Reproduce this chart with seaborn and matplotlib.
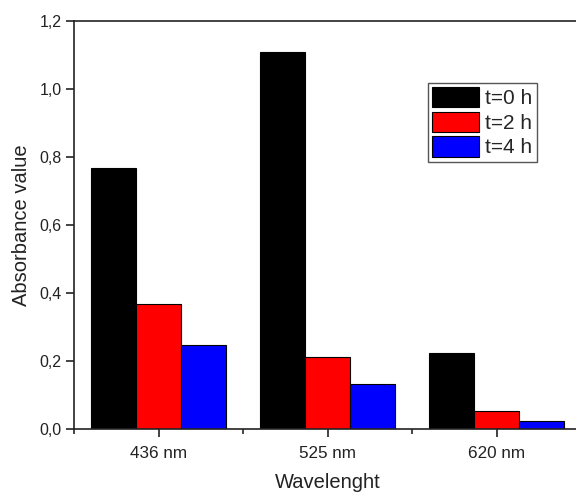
import matplotlib
matplotlib.use("Agg")
import matplotlib.pyplot as plt
import matplotlib.ticker as mticker
import seaborn as sns
import pandas as pd

categories = ["436 nm", "525 nm", "620 nm"]
series_names = ["t=0 h", "t=2 h", "t=4 h"]
t0_values = [0.769, 1.108, 0.223]
t2_values = [0.369, 0.212, 0.054]
t4_values = [0.248, 0.133, 0.024]
colors = ["#000000", "#FF0000", "#0000FF"]

rows = []
for name, vals in zip(series_names, [t0_values, t2_values, t4_values]):
    for c, v in zip(categories, vals):
        rows.append({"Wavelenght": c, "value": v, "series": name})
df = pd.DataFrame(rows)

sns.set_style("ticks")
plt.rcParams["font.family"] = ["Liberation Sans", "DejaVu Sans"]

fig = plt.figure(figsize=(5.76, 4.94), dpi=100)
ax = fig.add_axes([74/576, 65/494, 507/576, 408/494])

sns.barplot(data=df, x="Wavelenght", y="value", hue="series",
            palette=colors, width=0.8, edgecolor="#000000", linewidth=0.8,
            saturation=1, ax=ax, legend=True)

ax.set_xlim(-0.5, 2.5)
ax.set_ylim(0, 1.2)
ax.yaxis.set_major_locator(mticker.MultipleLocator(0.2))
ax.yaxis.set_major_formatter(mticker.FuncFormatter(lambda v, p: f"{v:.1f}".replace(".", ",")))
ax.xaxis.set_minor_locator(mticker.FixedLocator([-0.5, 0.5, 1.5, 2.5]))

for s in ax.spines.values():
    s.set_visible(True)
    s.set_color("#222222")
    s.set_linewidth(1.2)

ax.tick_params(axis="both", which="major", direction="out", length=6, width=1.2,
               colors="#222222", labelcolor="#222222")
ax.tick_params(axis="y", which="major", labelsize=11.5, pad=3)
ax.tick_params(axis="x", which="major", labelsize=12.3, pad=6)
ax.tick_params(axis="x", which="minor", direction="out", length=3.5, width=1.2)

ax.set_xlabel("Wavelenght", fontsize=14.5, labelpad=9, color="#222222")
ax.set_ylabel("Absorbance value", fontsize=14.5, labelpad=6, color="#222222")

leg = ax.legend(loc="upper left", bbox_to_anchor=((428-74)/507, (429-83)/408),
                borderaxespad=0, fontsize=15, handlelength=2.25, handleheight=1.12,
                labelspacing=0.16, borderpad=0.2, handletextpad=0.3,
                fancybox=False, framealpha=1, edgecolor="#555555")
leg.get_frame().set_linewidth(1.0)

fig.savefig("out.png", dpi=100)
